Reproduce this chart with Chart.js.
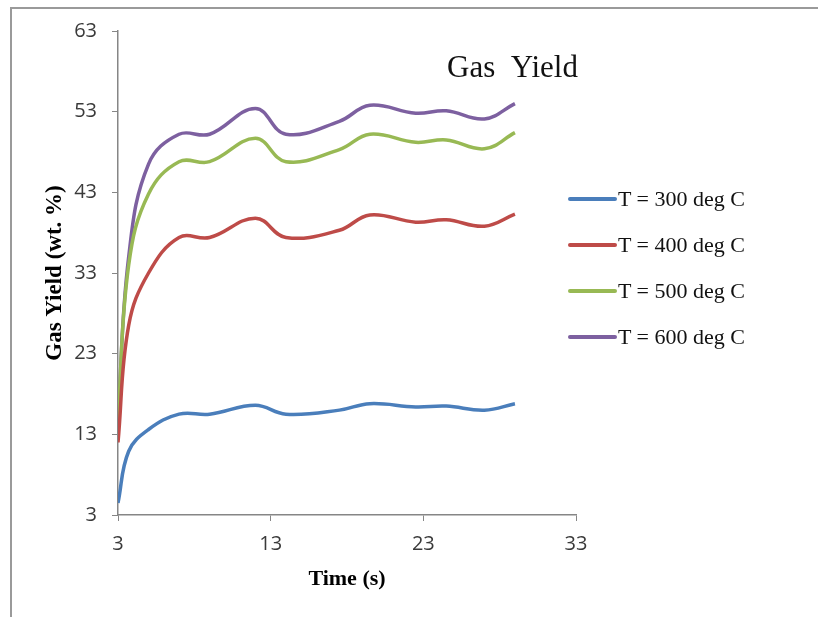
<!DOCTYPE html>
<html>
<head>
<meta charset="utf-8">
<script src="https://cdn.jsdelivr.net/npm/chart.js@4.4.0/dist/chart.umd.min.js"></script>
<style>
  html, body { margin: 0; padding: 0; background: #fff; }
  #wrap { position: relative; width: 818px; height: 617px; overflow: hidden; }
  #frame { position: absolute; left: 10px; top: 7px; right: -10px; bottom: -10px;
           border-left: 2px solid #9a9a9a; border-top: 2px solid #9a9a9a; }
  canvas { position: absolute; left: 0; top: 0; }
  #title { position: absolute; left: 447px; top: 51px; font: 31px "Liberation Serif", serif;
           line-height: 31px; word-spacing: 9px; color: #111; white-space: nowrap; }
  .leg { position: absolute; left: 568px; height: 46px; display: flex; align-items: center;
         font: 22px "Liberation Serif", serif; color: #111; white-space: nowrap; }
  .leg span.sw { display: inline-block; width: 49px; height: 4px; margin-right: 1px; border-radius: 2px; }
</style>
</head>
<body>
<div id="wrap">
  <div id="frame"></div>
  <canvas id="gasChart" width="818" height="617"></canvas>
  <div id="title">Gas Yield</div>
  <div id="legend"></div>
</div>
<script>
// time (s)
var times = [3, 3.7, 5, 7, 9, 12, 14, 17.5, 19.5, 22.5, 24.5, 27, 29];

// gas yield (wt. %) per temperature
var yield300 = [4.5, 10.9, 13.6, 15.5, 15.5, 16.6, 15.5, 16.0, 16.8, 16.4, 16.5, 16.0, 16.8];
var yield400 = [12, 26.5, 33.0, 37.4, 37.4, 39.8, 37.4, 38.3, 40.2, 39.3, 39.6, 38.8, 40.3];
var yield500 = [15, 34.0, 42.8, 46.8, 46.8, 49.7, 46.8, 48.3, 50.2, 49.2, 49.5, 48.4, 50.4];
var yield600 = [15, 35.0, 46.5, 50.2, 50.2, 53.4, 50.2, 51.8, 53.8, 52.8, 53.1, 52.1, 54.0];

var seriesLabels = ['T = 300 deg C', 'T = 400 deg C', 'T = 500 deg C', 'T = 600 deg C'];
var seriesColors = ['#4a7ebb', '#be4b48', '#98b954', '#7d60a0'];

// axis ticks
var xTicks = [3, 13, 23, 33];
var yTicks = [3, 13, 23, 33, 43, 53, 63];

function toPoints(vals) {
    return times.map(function (t, i) { return { x: t, y: vals[i] }; });
}

var allSeries = [yield300, yield400, yield500, yield600];
var datasets = allSeries.map(function (vals, i) {
    return {
        label: seriesLabels[i],
        data: toPoints(vals),
        borderColor: seriesColors[i],
        backgroundColor: seriesColors[i],
        borderWidth: 3.5,
        pointRadius: 0,
        tension: 0.4,
        fill: false
    };
});

var axisColor = '#868686';
var tickFont = { family: '"Open Sans", sans-serif', size: 20 };
var titleFont = { family: '"Liberation Serif", serif', size: 22, weight: 'bold' };

var ctx = document.getElementById('gasChart').getContext('2d');
var gasChart = new Chart(ctx, {
    type: 'line',
    data: { datasets: datasets },
    options: {
        responsive: false,
        animation: false,
        layout: { padding: { left: 0, top: 31, right: 242, bottom: 0 } },
        plugins: {
            legend: { display: false },
            tooltip: { enabled: false }
        },
        scales: {
            x: {
                type: 'linear',
                min: 3,
                max: 33,
                afterBuildTicks: function (scale) {
                    scale.ticks = xTicks.map(function (v) { return { value: v }; });
                },
                afterFit: function (scale) { scale.height = 102; },
                grid: { drawOnChartArea: false, tickLength: 6, color: axisColor },
                border: { color: axisColor, width: 1.5 },
                ticks: { font: tickFont, color: '#3a3a3a', padding: 11, maxRotation: 0 },
                title: { display: true, text: 'Time (s)', font: titleFont, color: '#000',
                         padding: { top: 0, bottom: 24 } }
            },
            y: {
                type: 'linear',
                min: 3,
                max: 63,
                afterBuildTicks: function (scale) {
                    scale.ticks = yTicks.map(function (v) { return { value: v }; });
                },
                afterFit: function (scale) { scale.width = 118; },
                grid: { drawOnChartArea: false, tickLength: 6, color: axisColor },
                border: { color: axisColor, width: 1.5 },
                ticks: { font: tickFont, color: '#3a3a3a', padding: 15 },
                title: { display: true, text: 'Gas Yield (wt. %)', font: { family: '"Liberation Serif", serif', size: 23, weight: 'bold' },
                         color: '#000', padding: { top: 41, bottom: 0 } }
            }
        }
    }
});

// legend to the right of the plot
var legendBox = document.getElementById('legend');
seriesLabels.forEach(function (label, i) {
    var row = document.createElement('div');
    row.className = 'leg';
    row.style.top = (176 + i * 46) + 'px';
    var sw = document.createElement('span');
    sw.className = 'sw';
    sw.style.background = seriesColors[i];
    row.appendChild(sw);
    row.appendChild(document.createTextNode(label));
    legendBox.appendChild(row);
});
</script>
</body>
</html>
